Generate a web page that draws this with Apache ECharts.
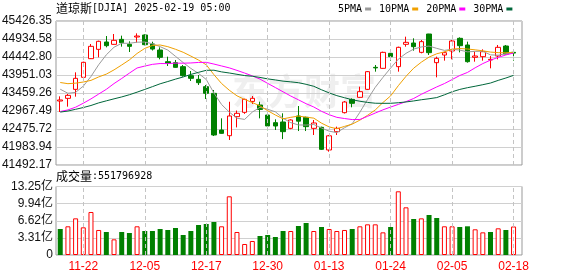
<!DOCTYPE html>
<html><head><meta charset="utf-8">
<script src="https://cdn.jsdelivr.net/npm/echarts/dist/echarts.min.js"></script>
<style>html,body{margin:0;padding:0;background:#fff}#c{width:578px;height:276px}</style>
</head><body><div id="c"></div>
<script>
const categories = ['11-19','11-20','11-21','11-22','11-25','11-26','11-27','11-29','12-02','12-03','12-04','12-05','12-06','12-09','12-10','12-11','12-12','12-13','12-16','12-17','12-18','12-19','12-20','12-23','12-24','12-26','12-27','12-30','12-31','01-02','01-03','01-06','01-07','01-08','01-10','01-13','01-14','01-15','01-16','01-17','01-21','01-22','01-23','01-24','01-27','01-28','01-29','01-30','01-31','02-03','02-04','02-05','02-06','02-07','02-10','02-11','02-12','02-13','02-14','02-18'];
const labeledDates = ['11-22','12-05','12-17','12-30','01-13','01-24','02-05','02-18'];

const opens  = [43240,43313,43559,43887,44397,44652,44853,44789,44925,44789,44989,45044,44800,44634,44315,44288,44179,43933,43833,43632,43450,42448,42293,42813,42931,43230,43131,42858,42649,42667,42494,42831,42795,42494,42521,41902,42403,42922,43286,43341,43559,44160,44133,44543,44179,44789,44825,44570,45071,44288,44497,44607,44953,44771,44434,44452,44361,44470,44743,44570];
const closes = [43269,43395,43860,44297,44734,44871,44752,44898,44834,44734,45016,44780,44660,44434,44270,44160,43933,43860,43741,43450,42312,42357,42831,42904,43286,43314,43010,42558,42558,42403,42722,42690,42540,42640,41920,42290,42494,43213,43177,43496,44042,44145,44570,44452,44707,44843,44725,44862,44561,44406,44561,44880,44752,44315,44470,44588,44379,44707,44525,44550];
const lows   = [42940,43086,43359,43878,44388,44434,44707,44780,44725,44579,44834,44762,44620,44379,44197,44151,43905,43787,43678,43295,42284,42348,42175,42520,42890,43160,42767,42440,42448,42200,42470,42420,42420,42312,41902,41856,42312,42900,43068,43332,43541,44042,44124,44343,44042,44725,44616,44543,44498,43887,44343,44379,44570,44288,44315,44343,44133,44379,44516,44343];
const highs  = [43368,43432,44024,44315,44798,44889,45016,45071,45026,44871,45089,45062,44860,44707,44452,44361,44224,44060,43951,43678,43541,42767,43220,42980,43304,43377,43222,42904,42740,42904,42740,43104,42813,42722,42540,42312,42540,43240,43313,43632,44060,44224,44588,44561,44725,44998,44953,44907,45075,44452,44588,44907,44980,44862,44588,44652,44470,44771,44771,44607];

const ma5  = [43562,43452,43476,43647,43911,44231,44503,44710,44818,44818,44847,44852,44805,44725,44632,44461,44291,44131,43993,43829,43459,43144,42938,42771,42738,42938,43069,43014,42945,42769,42650,42586,42583,42599,42502,42416,42377,42511,42619,42934,43284,43615,43886,44141,44383,44543,44659,44718,44740,44679,44623,44654,44632,44583,44596,44601,44501,44492,44534,44550];
const ma10 = [43746,43714,43728,43759,43804,43898,43975,44091,44225,44364,44539,44678,44758,44771,44725,44654,44572,44468,44359,44230,43960,43718,43535,43382,43283,43199,43107,42976,42858,42753,42794,42828,42799,42772,42636,42533,42482,42547,42609,42718,42850,42996,43199,43380,43659,43914,44137,44302,44440,44531,44583,44657,44675,44661,44638,44612,44577,44562,44558,44573];
const ma20 = [42953,42997,43071,43180,43298,43430,43560,43717,43856,44003,44143,44195,44242,44264,44263,44275,44274,44280,44294,44297,44250,44198,44146,44077,44004,43926,43839,43722,43608,43492,43377,43273,43167,43077,42959,42866,42794,42762,42733,42736,42822,42912,42999,43076,43147,43224,43309,43424,43525,43625,43717,43826,43937,44021,44148,44263,44357,44432,44499,44552];
const ma30 = [42938,42967,43014,43062,43118,43189,43245,43300,43352,43412,43482,43557,43633,43711,43773,43838,43897,43967,44024,44079,44082,44036,44006,43970,43936,43917,43885,43845,43816,43783,43764,43741,43697,43642,43548,43462,43387,43330,43275,43234,43202,43180,43177,43178,43193,43215,43242,43275,43302,43334,43409,43493,43557,43604,43644,43686,43732,43804,43869,43941];

const volumes = [503000000,555000000,709000000,535000000,832000000,484000000,445000000,303000000,445000000,426000000,555000000,464000000,464000000,503000000,484000000,522000000,387000000,464000000,580000000,600000000,638000000,555000000,1135000000,445000000,213000000,271000000,368000000,387000000,348000000,464000000,464000000,561000000,619000000,464000000,542000000,503000000,464000000,484000000,503000000,555000000,593000000,593000000,438000000,542000000,1232000000,922000000,696000000,709000000,774000000,716000000,555000000,555000000,542000000,555000000,497000000,438000000,445000000,516000000,484000000,551796928];
const volumeUp = [0,1,1,1,1,1,0,1,0,0,1,0,0,0,0,0,0,0,0,0,0,1,1,1,1,1,0,0,0,0,1,0,0,1,0,1,1,1,0,1,1,1,1,0,1,1,0,1,0,0,1,1,0,0,1,1,0,1,0,1];

const priceTickLabels = ['41492.17','41983.94','42475.72','42967.49','43459.26','43951.03','44442.80','44934.58','45426.35'];
const volTickLabels = ['0','3.31亿','6.62亿','9.94亿','13.25亿'];

const maNames = ['5PMA','10PMA','20PMA','30PMA'];
const maData = [ma5, ma10, ma20, ma30];
const maColors = ['#9a9a9a','#f0a000','#ff00ff','#00663a'];

const priceVals = priceTickLabels.map(parseFloat);
const pMin = priceVals[0], pMax = priceVals[priceVals.length-1];
const pStep = (pMax - pMin) / (priceVals.length - 1);
const vMax = 13.25e8, vStep = vMax / 4;

const ohlc = categories.map((c,i) => [opens[i], closes[i], lows[i], highs[i]]);

const lblFont = 'Liberation Sans, Arial, Noto Sans CJK SC, sans-serif';
const monoFont = 'DejaVu Sans Mono, monospace';
const cjkFont = 'Noto Sans CJK SC, sans-serif';

const chart = echarts.init(document.getElementById('c'), null, {renderer:'canvas'});
const dashLine = (xi, yi) => ({
  type:'line', xAxisIndex:xi, yAxisIndex:yi, data: categories.map(()=>null), z:1, silent:true,
  markLine:{symbol:['none','none'], silent:true, animation:false, label:{show:false},
    lineStyle:{type:[4,3], color:'#c4c4c4', width:1},
    data: labeledDates.map(d => ({xAxis:d}))}
});
const titleRich = {c:{fontSize:12, fontFamily:cjkFont, color:'#000', fontWeight:'normal'},
                   a:{fontSize:10, fontFamily:monoFont, color:'#000', fontWeight:'normal'}};

const option = {
  animation:false,
  backgroundColor:'#fff',
  title:[
    {text:'{c|道琼斯}{a|[DJIA] 2025-02-19 05:00}', left:56, top:2, padding:0,
     textStyle:{fontWeight:'normal', rich:titleRich}},
    {text:'{c|成交量}{a|:' + volumes[volumes.length-1] + '}', left:56, top:170, padding:0,
     textStyle:{fontWeight:'normal', rich:titleRich}}
  ],
  legend:{left:338, top:4, padding:0, itemWidth:6, itemHeight:3, itemGap:8, align:'right', icon:'rect',
    selectedMode:false, data:maNames,
    textStyle:{fontSize:10, fontFamily:monoFont, color:'#000', padding:[0,-2,0,0]}},
  graphic:[{type:'text', left:232, top:73, z:0, silent:true,
    style:{text:'东方财富', fontSize:36, fontWeight:'bold', fontFamily:cjkFont, fill:'#efefef'}}],
  grid:[
    {left:56, top:21, width:466, height:144, show:true, borderColor:'#999', borderWidth:1, backgroundColor:'transparent', outerBoundsMode:'none'},
    {left:56.4, top:21, width:461, height:144, outerBoundsMode:'none'},
    {left:56, top:186.5, width:466, height:68.5, show:true, borderColor:'#999', borderWidth:1, backgroundColor:'transparent', outerBoundsMode:'none'},
    {left:56.4, top:186.5, width:461, height:68.5, outerBoundsMode:'none'}
  ],
  xAxis:[
    {gridIndex:0, type:'value', min:0, max:1, show:false},
    {gridIndex:1, type:'category', data:categories, boundaryGap:true, show:false},
    {gridIndex:2, type:'value', min:0, max:1, show:false},
    {gridIndex:3, type:'category', data:categories, boundaryGap:true,
      axisLine:{show:false}, axisTick:{show:false}, splitLine:{show:false},
      axisLabel:{interval:(idx, val) => labeledDates.includes(val), color:'#ff0000', fontSize:12, fontFamily:lblFont, margin:6, hideOverlap:false}}
  ],
  yAxis:[
    {gridIndex:0, type:'value', min:pMin, max:pMax, interval:pStep,
      axisLine:{show:false}, axisTick:{show:false},
      splitLine:{show:true, lineStyle:{color:'#d0d0d0', width:1}},
      axisLabel:{margin:4, fontSize:12, fontFamily:lblFont, color:'#111',
        formatter:(v) => { let b=0; priceVals.forEach((p,k)=>{ if (Math.abs(p-v) < Math.abs(priceVals[b]-v)) b=k; }); return priceTickLabels[b]; }}},
    {gridIndex:1, type:'value', min:pMin, max:pMax, show:false, splitLine:{show:false}},
    {gridIndex:2, type:'value', min:0, max:vMax, interval:vStep,
      axisLine:{show:false}, axisTick:{show:false},
      splitLine:{show:true, lineStyle:{color:'#d0d0d0', width:1}},
      axisLabel:{margin:3, fontSize:12, fontFamily:lblFont, color:'#111',
        formatter:(v) => volTickLabels[Math.round(v / vStep)]}},
    {gridIndex:3, type:'value', min:0, max:vMax, show:false, splitLine:{show:false}}
  ],
  series:[
    dashLine(1,1),
    dashLine(3,3),
    {type:'candlestick', name:'DJIA', xAxisIndex:1, yAxisIndex:1, data:ohlc, barWidth:5, z:3, silent:true,
      itemStyle:{color:'#ffffff', color0:'#008000', borderColor:'#ff0000', borderColor0:'#008000', borderWidth:1}},
    ...maNames.map((n,k) => ({type:'line', name:n, xAxisIndex:1, yAxisIndex:1, data:maData[k], symbol:'none',
      showSymbol:false, z:4, silent:true, lineStyle:{width:1, color:maColors[k]}, itemStyle:{color:maColors[k]}})),
    {type:'bar', name:'成交量', xAxisIndex:3, yAxisIndex:3, barWidth:5, z:3, silent:true,
      data: volumes.map((v,i) => ({value:v, itemStyle: volumeUp[i]
        ? {color:'#ffffff', borderColor:'#ff0000', borderWidth:1}
        : {color:'#008000', borderColor:'#008000', borderWidth:0}}))}
  ]
};
chart.setOption(option);
</script>
</body></html>
